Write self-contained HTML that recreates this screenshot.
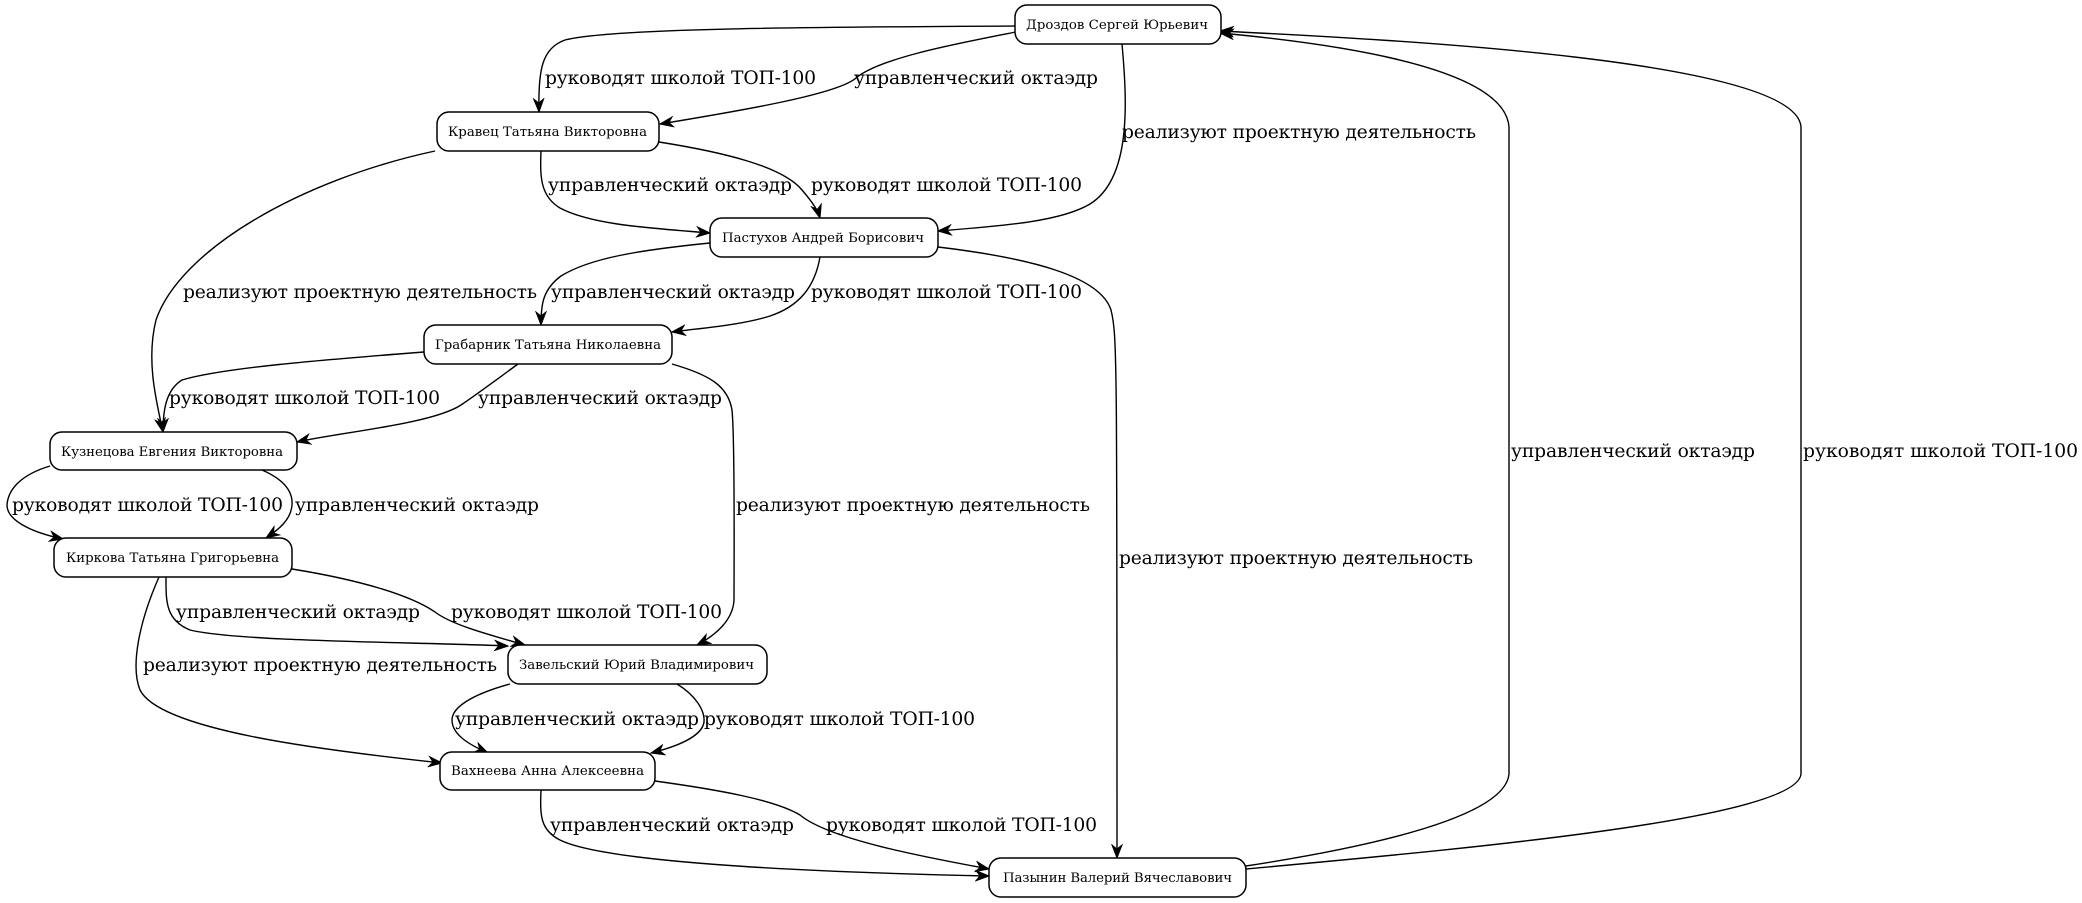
<!DOCTYPE html>
<html>
<head>
<meta charset="utf-8">
<style>
html,body{margin:0;padding:0;background:#fff;}
svg{display:block;}
.n{fill:#fff;stroke:#000;stroke-width:1.5;}
.nt{font-family:"DejaVu Serif","Liberation Serif",serif;font-size:13.3px;fill:#000;}
.e{fill:none;stroke:#000;stroke-width:1.4;}
.l{font-family:"DejaVu Serif","Liberation Serif",serif;font-size:18.7px;fill:#000;}
</style>
</head>
<body>
<svg width="2082" height="903" viewBox="0 0 2082 903" xmlns="http://www.w3.org/2000/svg">
<defs>
<marker id="a" markerWidth="16" markerHeight="12" refX="14" refY="6" orient="auto" markerUnits="userSpaceOnUse">
<path d="M1,1 L14,6 L1,11 L5,6 Z" fill="#000" stroke="#000" stroke-width="1"/>
</marker>
</defs>

<!-- edges -->
<path class="e" marker-end="url(#a)" d="M1016,26 C820,27 610,28 565,40 C542,48 538,70 539,112"/>
<path class="e" marker-end="url(#a)" d="M1016,32 C955,44 880,58 856,78 C838,94 745,110 660,124"/>
<path class="e" marker-end="url(#a)" d="M1122,44 C1127,100 1132,178 1090,204 C1060,222 1000,226 938,231"/>
<path class="e" marker-end="url(#a)" d="M541,151 C540,176 540,196 560,208 C592,225 650,228 710,233"/>
<path class="e" marker-end="url(#a)" d="M659,142 C722,152 782,166 802,190 C814,204 818,211 820,218"/>
<path class="e" marker-end="url(#a)" d="M435,151 C300,180 180,250 156,320 C146,360 156,400 163,432"/>
<path class="e" marker-end="url(#a)" d="M710,243 C640,250 590,258 561,276 C542,290 541,306 541,325"/>
<path class="e" marker-end="url(#a)" d="M820,257 C815,286 800,306 770,316 C742,325 702,328 672,332"/>
<path class="e" marker-end="url(#a)" d="M938,247 C1030,258 1100,276 1111,310 C1117,334 1117,350 1117,858"/>
<path class="e" marker-end="url(#a)" d="M424,352 C320,360 222,368 182,380 C166,390 163,410 163,432"/>
<path class="e" marker-end="url(#a)" d="M518,364 C496,380 476,395 461,405 C432,424 342,432 297,442"/>
<path class="e" marker-end="url(#a)" d="M672,364 C710,375 728,386 732,410 C735,440 734,580 734,600 C733,620 716,635 697,645"/>
<path class="e" marker-end="url(#a)" d="M50,466 C20,475 8,490 7,505 C7,520 30,532 63,539"/>
<path class="e" marker-end="url(#a)" d="M262,470 C285,480 293,492 292,505 C291,520 278,530 266,538"/>
<path class="e" marker-end="url(#a)" d="M166,577 C166,600 165,620 190,630 C240,642 420,642 508,646"/>
<path class="e" marker-end="url(#a)" d="M292,569 C360,580 410,595 435,612 C452,625 490,635 525,645"/>
<path class="e" marker-end="url(#a)" d="M159,577 C140,620 130,665 140,690 C160,730 320,750 442,763"/>
<path class="e" marker-end="url(#a)" d="M510,684 C470,695 452,708 452,720 C452,735 470,745 488,753"/>
<path class="e" marker-end="url(#a)" d="M677,684 C695,695 705,710 704,722 C702,737 675,747 651,753"/>
<path class="e" marker-end="url(#a)" d="M541,790 C540,815 540,830 560,840 C610,865 850,873 989,876"/>
<path class="e" marker-end="url(#a)" d="M655,781 C720,790 775,800 800,815 C830,840 930,858 989,869"/>
<path class="e" marker-end="url(#a)" d="M1246,866 C1350,850 1505,820 1509,774 L1509,127 C1505,70 1350,45 1220,33"/>
<path class="e" marker-end="url(#a)" d="M1246,869 C1450,850 1797,820 1801,774 L1801,127 C1797,60 1400,40 1220,31"/>

<!-- edge labels -->
<text class="l" x="545" y="84" textLength="271">руководят школой ТОП-100</text>
<text class="l" x="854" y="84" textLength="244">управленческий октаэдр</text>
<text class="l" x="1122" y="138" textLength="354">реализуют проектную деятельность</text>
<text class="l" x="548" y="191" textLength="244">управленческий октаэдр</text>
<text class="l" x="811" y="191" textLength="271">руководят школой ТОП-100</text>
<text class="l" x="183" y="298" textLength="354">реализуют проектную деятельность</text>
<text class="l" x="551" y="298" textLength="244">управленческий октаэдр</text>
<text class="l" x="811" y="298" textLength="271">руководят школой ТОП-100</text>
<text class="l" x="1119" y="564" textLength="354">реализуют проектную деятельность</text>
<text class="l" x="169" y="404" textLength="271">руководят школой ТОП-100</text>
<text class="l" x="478" y="404" textLength="244">управленческий октаэдр</text>
<text class="l" x="736" y="511" textLength="354">реализуют проектную деятельность</text>
<text class="l" x="12" y="511" textLength="271">руководят школой ТОП-100</text>
<text class="l" x="295" y="511" textLength="244">управленческий октаэдр</text>
<text class="l" x="176" y="618" textLength="244">управленческий октаэдр</text>
<text class="l" x="451" y="618" textLength="271">руководят школой ТОП-100</text>
<text class="l" x="143" y="671" textLength="354">реализуют проектную деятельность</text>
<text class="l" x="455" y="725" textLength="244">управленческий октаэдр</text>
<text class="l" x="704" y="725" textLength="271">руководят школой ТОП-100</text>
<text class="l" x="550" y="831" textLength="244">управленческий октаэдр</text>
<text class="l" x="826" y="831" textLength="271">руководят школой ТОП-100</text>
<text class="l" x="1511" y="457" textLength="244">управленческий октаэдр</text>
<text class="l" x="1803" y="457" textLength="275">руководят школой ТОП-100</text>

<!-- nodes -->
<rect class="n" x="1015" y="5" width="206" height="39" rx="12"/>
<text class="nt" x="1026" y="29" textLength="182">Дроздов Сергей Юрьевич</text>

<rect class="n" x="437" y="112" width="222" height="39" rx="12"/>
<text class="nt" x="448" y="136" textLength="199">Кравец Татьяна Викторовна</text>

<rect class="n" x="710" y="218" width="228" height="39" rx="12"/>
<text class="nt" x="722" y="242" textLength="202">Пастухов Андрей Борисович</text>

<rect class="n" x="424" y="325" width="248" height="39" rx="12"/>
<text class="nt" x="435" y="349" textLength="226">Грабарник Татьяна Николаевна</text>

<rect class="n" x="50" y="432" width="247" height="38" rx="12"/>
<text class="nt" x="61" y="456" textLength="222">Кузнецова Евгения Викторовна</text>

<rect class="n" x="54" y="538" width="238" height="39" rx="12"/>
<text class="nt" x="66" y="562" textLength="213">Киркова Татьяна Григорьевна</text>

<rect class="n" x="508" y="645" width="259" height="39" rx="12"/>
<text class="nt" x="519" y="669" textLength="235">Завельский Юрий Владимирович</text>

<rect class="n" x="440" y="752" width="215" height="38" rx="12"/>
<text class="nt" x="451" y="775" textLength="193">Вахнеева Анна Алексеевна</text>

<rect class="n" x="989" y="858" width="257" height="39" rx="12"/>
<text class="nt" x="1003" y="882" textLength="229">Пазынин Валерий Вячеславович</text>
</svg>
</body>
</html>
